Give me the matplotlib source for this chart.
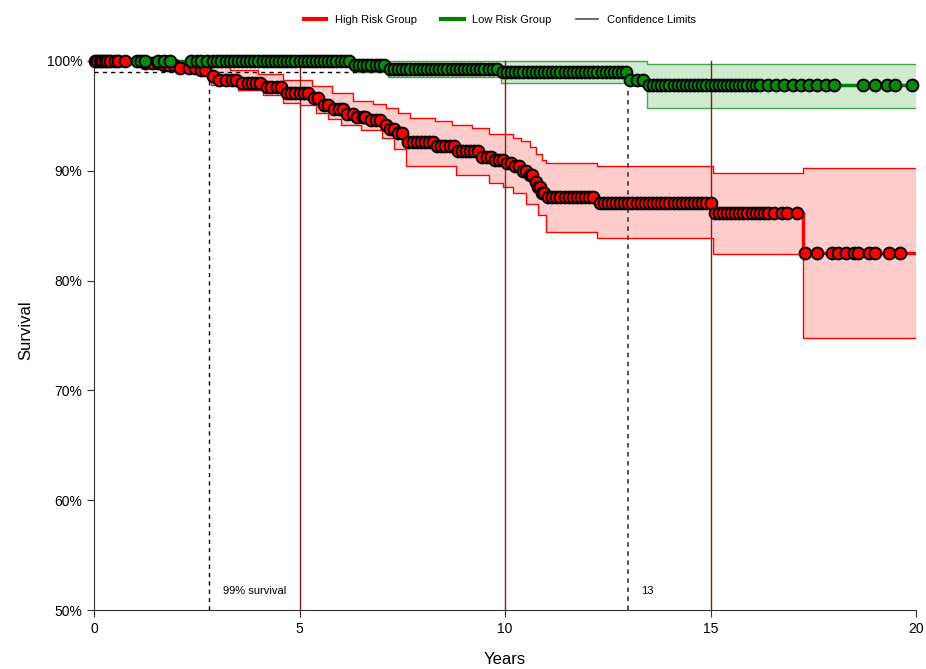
import matplotlib.pyplot as plt
from matplotlib.lines import Line2D
import numpy as np

plt.rcParams['font.family'] = ['Liberation Sans', 'DejaVu Sans']

# Kaplan-Meier steps (years, survival %)
high_t = [0, 1.2, 1.6, 2.0, 2.5, 2.85, 3.0, 3.5, 4.1, 4.6, 5.3, 5.5, 5.8, 6.1, 6.4, 6.7,
          7.0, 7.2, 7.4, 7.6, 8.3, 8.8, 9.4, 9.7, 10.0, 10.2, 10.4, 10.55, 10.7, 10.8,
          10.9, 11.0, 12.25, 15.05, 17.25]
high_s = [100, 99.8, 99.6, 99.4, 99.2, 98.6, 98.3, 98.0, 97.6, 97.1, 96.6, 96.0, 95.6, 95.2,
          94.9, 94.6, 94.2, 93.8, 93.4, 92.6, 92.3, 91.8, 91.3, 91.0, 90.7, 90.4, 90.0, 89.6,
          89.0, 88.5, 88.0, 87.6, 87.1, 86.2, 82.5]

high_up_t = [0, 2.85, 3.3, 4.0, 4.6, 5.3, 5.8, 6.3, 6.8, 7.1, 7.4, 7.7, 8.3, 8.7, 9.2, 9.6,
             10.2, 10.4, 10.6, 10.75, 10.9, 11.0, 12.25, 15.05, 17.25]
high_up_s = [100, 99.6, 99.2, 98.8, 98.3, 97.7, 97.1, 96.4, 96.1, 95.7, 95.3, 94.8, 94.5, 94.2,
             93.9, 93.35, 93.0, 92.7, 92.2, 91.5, 91.0, 90.7, 90.4, 89.8, 90.25]
high_lo_t = [0, 1.2, 2.0, 2.85, 3.5, 4.1, 4.6, 5.0, 5.4, 5.7, 6.0, 6.5, 7.0, 7.3, 7.6, 8.8,
             9.6, 9.95, 10.2, 10.5, 10.8, 11.0, 12.25, 15.05, 17.25]
high_lo_s = [100, 99.4, 99.0, 97.8, 97.4, 96.9, 96.2, 96.0, 95.3, 94.7, 94.2, 93.7, 93.0, 92.0,
             90.4, 89.6, 88.9, 88.5, 88.0, 87.0, 86.0, 84.4, 83.9, 82.4, 74.8]

low_t = [0, 6.3, 7.15, 9.9, 13.0, 13.45]
low_s = [100, 99.6, 99.3, 99.0, 98.3, 97.8]
low_up_t = [0, 13.45]
low_up_s = [100, 99.7]
low_lo_t = [0, 6.3, 7.15, 9.9, 13.45]
low_lo_s = [100, 99.0, 98.5, 98.0, 95.7]

# censoring times
high_cens = [0.02, 0.08, 0.14, 0.2, 0.26, 0.32, 0.4, 0.5, 0.58, 0.75,
             1.25, 1.4, 1.55, 1.7, 1.8, 1.95, 2.1, 2.3, 2.45, 2.6, 2.7,
             2.9, 3.05, 3.2, 3.35, 3.45, 3.6, 3.75, 3.85, 3.95, 4.05, 4.2, 4.3, 4.45, 4.55,
             4.7, 4.8, 4.9, 5.0, 5.1, 5.2, 5.35, 5.45, 5.6, 5.7, 5.85, 5.95, 6.05, 6.15, 6.3,
             6.4, 6.55, 6.6, 6.75, 6.85, 6.95, 7.1, 7.2, 7.3, 7.4, 7.5, 7.65, 7.75, 7.85,
             7.95, 8.05, 8.15, 8.25, 8.35, 8.45, 8.55, 8.65, 8.75, 8.85, 8.95, 9.05, 9.15,
             9.25, 9.35, 9.45, 9.55, 9.65, 9.75, 9.85, 9.95, 10.05, 10.15, 10.25, 10.35,
             10.45, 10.5, 10.6, 10.65, 10.75, 10.8, 10.85, 10.9, 10.95,
             11.05, 11.15, 11.25, 11.35, 11.45, 11.55, 11.65, 11.75, 11.85, 11.95, 12.05, 12.15,
             12.3, 12.4, 12.5, 12.6, 12.7, 12.8, 12.9, 13.0, 13.1, 13.2, 13.3, 13.4, 13.5,
             13.6, 13.7, 13.8, 13.9, 14.0, 14.1, 14.2, 14.3, 14.4, 14.5, 14.6, 14.7, 14.8,
             14.9, 15.0, 15.1, 15.2, 15.3, 15.4, 15.5, 15.6, 15.7, 15.8, 15.9, 16.0, 16.1,
             16.2, 16.3, 16.4, 16.55, 16.75, 16.85, 17.1,
             17.3, 17.6, 17.95, 18.1, 18.3, 18.5, 18.6, 18.85, 19.0, 19.35, 19.6]
low_cens = [1.05, 1.15, 1.25, 1.55, 1.7, 1.85, 2.35, 2.5, 2.6, 2.75, 2.9, 3.0, 3.1, 3.2, 3.3,
            3.4, 3.5, 3.6, 3.7, 3.8, 3.9, 4.0, 4.1, 4.2, 4.3, 4.4, 4.5, 4.6, 4.7, 4.8, 4.9,
            5.0, 5.1, 5.2, 5.3, 5.4, 5.5, 5.6, 5.7, 5.8, 5.9, 6.0, 6.1, 6.2,
            6.35, 6.45, 6.55, 6.65, 6.75, 6.85, 6.95, 7.05,
            7.2, 7.3, 7.4, 7.5, 7.6, 7.7, 7.8, 7.9, 8.0, 8.1, 8.2, 8.3, 8.4, 8.5, 8.6, 8.7,
            8.8, 8.9, 9.0, 9.1, 9.2, 9.3, 9.4, 9.5, 9.6, 9.7, 9.8,
            9.95, 10.05, 10.15, 10.25, 10.35, 10.45, 10.55, 10.65, 10.75, 10.85, 10.95, 11.05,
            11.15, 11.25, 11.35, 11.45, 11.55, 11.65, 11.75, 11.85, 11.95, 12.05, 12.15, 12.25,
            12.35, 12.45, 12.55, 12.65, 12.75, 12.85, 12.95,
            13.05, 13.2, 13.35,
            13.5, 13.6, 13.7, 13.8, 13.9, 14.0, 14.1, 14.2, 14.3, 14.4, 14.5, 14.6, 14.7, 14.8,
            14.9, 15.0, 15.1, 15.2, 15.3, 15.4, 15.5, 15.6, 15.7, 15.8, 15.9, 16.0, 16.1, 16.2,
            16.4, 16.6, 16.8, 17.0, 17.2, 17.4, 17.6, 17.8, 18.0,
            18.7, 19.0, 19.3, 19.5, 19.9]


def step_value(times, vals, t):
    """Survival at time t from a post-step function"""
    idx = np.searchsorted(times, t, side='right') - 1
    return np.asarray(vals)[idx]


def extend(times, vals, end=20):
    return list(times) + [end], list(vals) + [vals[-1]]


fig = plt.figure(figsize=(9.26, 6.69), dpi=100)
ax = fig.add_axes([94 / 926, 1 - 610 / 669, 822 / 926, 560 / 669])
ax.set_xlim(0, 20)
ax.set_ylim(50, 101)

groups = [
    (high_t, high_s, high_up_t, high_up_s, high_lo_t, high_lo_s, high_cens,
     '#ff0000', '#ff0000', '#ffcccc', '#ff0000'),
    (low_t, low_s, low_up_t, low_up_s, low_lo_t, low_lo_s, low_cens,
     '#008000', '#44a844', '#d0ead0', '#0a8a0a'),
]

# Confidence bands
for (t, s, ut, us, lt, ls, cens, col, ccol, fcol, mcol) in groups:
    ut2, us2 = extend(ut, us)
    lt2, ls2 = extend(lt, ls)
    grid = np.unique(np.concatenate([ut2, lt2]))
    up = step_value(ut2, us2, grid)
    lo = step_value(lt2, ls2, grid)
    ax.fill_between(grid, lo, up, step='post', color=fcol, lw=0, zorder=1)
    ax.step(ut2, us2, where='post', color=ccol, lw=1, zorder=2)
    ax.step(lt2, ls2, where='post', color=ccol, lw=1, zorder=2)

# reference lines
for xv in [5, 10, 15]:
    ax.plot([xv, xv], [50, 100], color='#8b1a1a', lw=1, zorder=3)
ax.plot([2.8, 2.8], [50, 99], color='black', lw=1, ls=(0, (3, 3)), zorder=3)
ax.plot([0, 13], [99, 99], color='black', lw=1, ls=(0, (3, 3)), zorder=3)
ax.plot([13, 13], [50, 98.3], color='#444444', lw=1.3, ls=(0, (2.5, 2.5)), zorder=3)
ax.text(3.15, 51.7, '99% survival', fontsize=8, va='center', ha='left')
ax.text(13.3, 51.7, '13', fontsize=8, va='center', ha='left')

# survival curves and censor marks
for (t, s, ut, us, lt, ls, cens, col, ccol, fcol, mcol) in groups:
    t2, s2 = extend(t, s)
    ax.step(t2, s2, where='post', color=col, lw=2.5, zorder=4)
    ys = step_value(t, s, np.array(cens))
    for xc, yc in zip(cens, ys):
        ax.plot(xc, yc, 'o', ms=8.5, mfc=mcol, mec='black', mew=1.4, zorder=5, clip_on=False)

for side in ['top', 'right']:
    ax.spines[side].set_visible(False)
ax.spines['left'].set_bounds(50, 100)
ax.spines['left'].set_color('#333333')
ax.spines['bottom'].set_color('#333333')
ax.set_xticks([0, 5, 10, 15, 20])
ax.set_yticks([50, 60, 70, 80, 90, 100])
ax.set_yticklabels([f'{v}%' for v in [50, 60, 70, 80, 90, 100]])
ax.tick_params(labelsize=10, length=5, color='#333333')
ax.set_xlabel('Years', fontsize=12, labelpad=12)
ax.set_ylabel('Survival', fontsize=12, labelpad=10)

handles = [Line2D([], [], color='#ff0000', lw=3),
           Line2D([], [], color='#008000', lw=3),
           Line2D([], [], color='#555555', lw=1.2)]
fig.legend(handles, ['High Risk Group', 'Low Risk Group', 'Confidence Limits'],
           loc='center', bbox_to_anchor=(0.54, 0.97), ncol=3, frameon=False,
           fontsize=8, handlelength=2, columnspacing=2.2)

fig.savefig('out.png', dpi=100)
